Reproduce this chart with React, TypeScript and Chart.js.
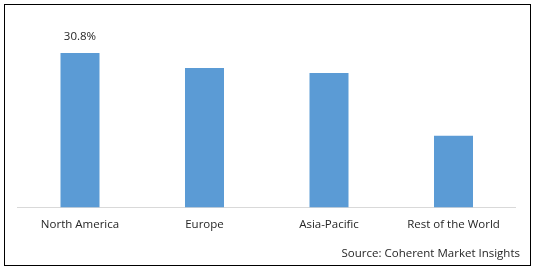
import React, { useEffect, useRef } from "react";
import { Chart, registerables } from "chart.js";

Chart.register(...registerables);

const categories = ["North America", "Europe", "Asia-Pacific", "Rest of the World"];
const shares = [30.8, 27.8, 26.8, 14.3];
const shownLabels = ["30.8%", "", "", ""];
const sourceText = "Source: Coherent Market Insights";

const FONT = "'Open Sans', sans-serif";

const framePlugin = {
  id: "frameAndSource",
  afterDraw(chart: any) {
    const ctx = chart.ctx;
    ctx.save();
    ctx.strokeStyle = "#000000";
    ctx.lineWidth = 1;
    ctx.strokeRect(4.5, 4.5, 526, 261);
    ctx.fillStyle = "#262626";
    ctx.font = `11.5px ${FONT}`;
    ctx.textAlign = "right";
    ctx.textBaseline = "middle";
    ctx.fillText(sourceText, 520, 254);
    const meta = chart.getDatasetMeta(0);
    ctx.textAlign = "center";
    meta.data.forEach((bar: any, i: number) => {
      const t = shownLabels[i];
      if (t) ctx.fillText(t, bar.x, bar.y - 16);
    });
    ctx.restore();
  },
};

export default function App() {
  const ref = useRef<HTMLCanvasElement | null>(null);
  useEffect(() => {
    if (!ref.current) return;
    const chart = new Chart(ref.current, {
      type: "bar",
      data: {
        labels: categories,
        datasets: [
          {
            data: shares,
            backgroundColor: "#5B9BD5",
            borderWidth: 0,
            categoryPercentage: 1,
            barPercentage: 0.3133,
          },
        ],
      },
      options: {
        animation: false,
        responsive: false,
        maintainAspectRatio: false,
        layout: { padding: { left: 17.75, right: 19.25, top: 31.86, bottom: 28.8 } },
        plugins: {
          legend: { display: false },
          tooltip: { enabled: false },
          title: { display: false },
        },
        scales: {
          x: {
            grid: { display: false, drawTicks: false },
            border: { display: true, color: "#D9D9D9", width: 1 },
            ticks: {
              padding: 10,
              color: "#262626",
              font: { family: FONT, size: 11.5 },
              maxRotation: 0,
              autoSkip: false,
            },
          },
          y: {
            display: false,
            min: 0,
            max: 35,
          },
        },
      },
      plugins: [framePlugin],
    });
    return () => chart.destroy();
  }, []);
  return (
    <div style={{ position: "absolute", left: 0, top: 0, width: 535, height: 270, background: "#fff" }}>
      <canvas ref={ref} width={535} height={270} style={{ width: 535, height: 270, display: "block" }} />
    </div>
  );
}
